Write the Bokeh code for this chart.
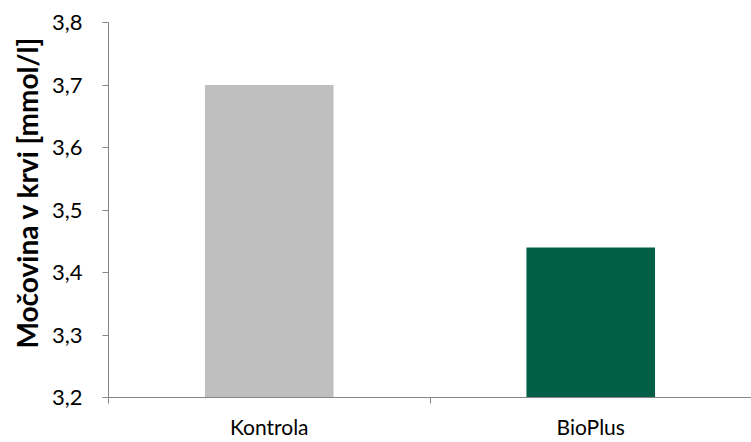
from bokeh.plotting import figure
from bokeh.models import Range1d, FixedTicker, Title
from bokeh.embed import file_html
from bokeh.resources import INLINE

categories = ["Kontrola", "BioPlus"]
values = [3.70, 3.44]
bar_colors = ["#BFBFBF", "#005F46"]
y_ticks = [3.2, 3.3, 3.4, 3.5, 3.6, 3.7, 3.8]
y_tick_labels = ["3,2", "3,3", "3,4", "3,5", "3,6", "3,7", "3,8"]
y_title = "Močovina v krvi [mmol/l]"

n = len(categories)
xs = [i + 0.5 for i in range(n)]

AXIS = "#868686"
FONT = "Lato"

p = figure(width=751, height=442, x_range=Range1d(0, n), y_range=Range1d(y_ticks[0], y_ticks[-1]),
           output_backend="svg", toolbar_location=None,
           min_border_left=108, min_border_right=0, min_border_top=22, min_border_bottom=45)
p.outline_line_color = None
p.xgrid.visible = False
p.ygrid.visible = False
p.background_fill_color = "white"

p.vbar(x=xs, top=values, bottom=y_ticks[0], width=0.4, fill_color=bar_colors, line_color=None)

# x axis
xa = p.xaxis[0]
xa.ticker = FixedTicker(ticks=xs, minor_ticks=list(range(n + 1)))
xa.major_label_overrides = {x: c for x, c in zip(xs, categories)}
xa.major_tick_line_color = None
xa.minor_tick_in = 0
xa.minor_tick_out = 6
xa.minor_tick_line_color = AXIS
xa.axis_line_color = AXIS
xa.major_label_text_font = FONT
xa.major_label_text_font_size = "21px"
xa.major_label_text_color = "#000000"
xa.major_label_standoff = 10

# y axis
ya = p.yaxis[0]
ya.ticker = FixedTicker(ticks=y_ticks, minor_ticks=[])
ya.major_label_overrides = {t: l for t, l in zip(y_ticks, y_tick_labels)}
ya.major_tick_in = 0
ya.major_tick_out = 6
ya.major_tick_line_color = AXIS
ya.axis_line_color = AXIS
ya.major_label_text_font = FONT
ya.major_label_text_font_size = "22px"
ya.major_label_text_color = "#000000"
ya.major_label_standoff = 20

title = Title(text=y_title, align="left", offset=49, standoff=10,
              text_font=FONT, text_font_style="bold", text_font_size="28px",
              text_color="#000000")
p.add_layout(title, "left")

open("out.html", "w").write(file_html(p, INLINE))
